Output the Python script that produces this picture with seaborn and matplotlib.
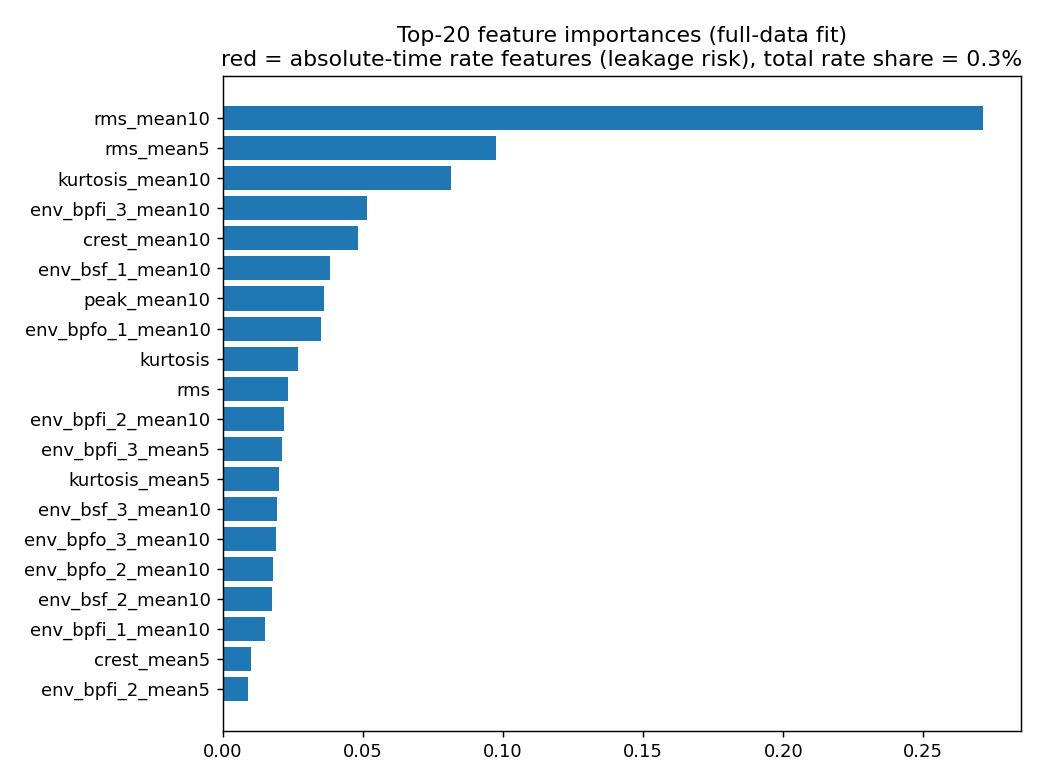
import matplotlib
matplotlib.use("Agg")
import matplotlib.pyplot as plt
import seaborn as sns

# top-20 importances, largest first
features = [
    "rms_mean10", "rms_mean5", "kurtosis_mean10", "env_bpfi_3_mean10",
    "crest_mean10", "env_bsf_1_mean10", "peak_mean10", "env_bpfo_1_mean10",
    "kurtosis", "rms", "env_bpfi_2_mean10", "env_bpfi_3_mean5",
    "kurtosis_mean5", "env_bsf_3_mean10", "env_bpfo_3_mean10",
    "env_bpfo_2_mean10", "env_bsf_2_mean10", "env_bpfi_1_mean10",
    "crest_mean5", "env_bpfi_2_mean5",
]
importances = [
    0.2713, 0.0976, 0.0812, 0.0515, 0.0480, 0.0383, 0.0362, 0.0348,
    0.0269, 0.0233, 0.0219, 0.0212, 0.0201, 0.0194, 0.0190, 0.0180,
    0.0176, 0.0151, 0.0098, 0.0090,
]
rate_share = 0.3

fig, ax = plt.subplots(figsize=(8, 6), dpi=130)
sns.barplot(x=importances, y=features, orient="h", color="#1f77b4",
            saturation=1, width=0.8, ax=ax)

n = len(features)
pad = (n - 1 + 0.8) * 0.05
ax.set_ylim(n - 1 + 0.4 + pad, -0.4 - pad)
ax.set_xlim(0, max(importances) * 1.05)
ax.set_xlabel("")
ax.set_ylabel("")
ax.set_title("Top-20 feature importances (full-data fit)\n"
             f"red = absolute-time rate features (leakage risk), total rate share = {rate_share}%",
             fontsize=12.2)

fig.subplots_adjust(left=0.2145, right=0.9817, top=0.902, bottom=0.063)
plt.savefig("out.png", dpi=130)
